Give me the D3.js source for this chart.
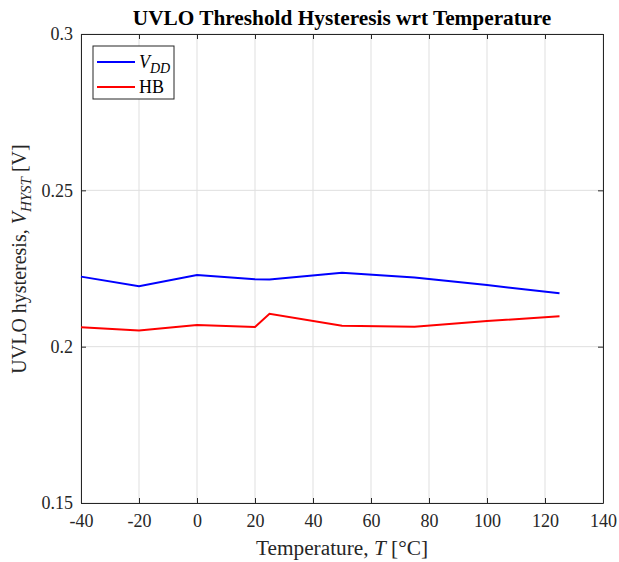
<!DOCTYPE html>
<html>
<head>
<meta charset="utf-8">
<script src="https://cdn.jsdelivr.net/npm/d3@7"></script>
<style>
  body { margin: 0; background: #fff; }
  text { font-family: "Liberation Serif", "Times New Roman", serif; }
</style>
</head>
<body>
<div id="chart"></div>
<script>
var temps = [-40, -20, 0, 20, 25, 50, 75, 100, 125];
var vddHyst = [0.2224, 0.2193, 0.2229, 0.2216, 0.2215, 0.2236, 0.2221, 0.2197, 0.2171];
var hbHyst = [0.2062, 0.2052, 0.2069, 0.2063, 0.2105, 0.2067, 0.2064, 0.2082, 0.2097];
var xTicks = [-40, -20, 0, 20, 40, 60, 80, 100, 120, 140];
var yTicks = [0.15, 0.2, 0.25, 0.3];

var width = 619, height = 562;
var margin = {top: 34, right: 16, bottom: 59, left: 81};
var w = width - margin.left - margin.right,
    h = height - margin.top - margin.bottom;
var serif = "'Liberation Serif', 'Times New Roman', serif";

var svg = d3.select("#chart").append("svg")
  .attr("width", width)
  .attr("height", height);

var g = svg.append("g")
  .attr("transform", "translate(" + margin.left + "," + margin.top + ")");

var x = d3.scaleLinear().domain([-40, 140]).range([0, w]);
var y = d3.scaleLinear().domain([0.15, 0.3]).range([h, 0]);

// grid
g.selectAll(".gx").data(xTicks).enter().append("line")
  .attr("x1", d => x(d)).attr("x2", d => x(d))
  .attr("y1", 0).attr("y2", h)
  .attr("stroke", "#dfdfdf").attr("stroke-width", 1);
g.selectAll(".gy").data(yTicks).enter().append("line")
  .attr("y1", d => y(d)).attr("y2", d => y(d))
  .attr("x1", 0).attr("x2", w)
  .attr("stroke", "#dfdfdf").attr("stroke-width", 1);

// axes (ticks inward, box)
var fmt = d => String(d);
var axB = g.append("g").attr("transform", "translate(0," + h + ")")
  .call(d3.axisBottom(x).tickValues(xTicks).tickFormat(fmt).tickSizeInner(-5).tickSizeOuter(0).tickPadding(11));
var axT = g.append("g")
  .call(d3.axisTop(x).tickValues(xTicks).tickFormat("").tickSizeInner(-5).tickSizeOuter(0));
var axL = g.append("g")
  .call(d3.axisLeft(y).tickValues(yTicks).tickFormat(fmt).tickSizeInner(-5).tickSizeOuter(0).tickPadding(8));
var axR = g.append("g").attr("transform", "translate(" + w + ",0)")
  .call(d3.axisRight(y).tickValues(yTicks).tickFormat("").tickSizeInner(-5).tickSizeOuter(0));

[axB, axT, axL, axR].forEach(function(a){
  a.attr("font-family", serif).attr("font-size", 18);
  a.selectAll("path").attr("stroke", "#262626").attr("stroke-width", 1);
  a.selectAll("line").attr("stroke", "#262626");
  a.selectAll("text").attr("fill", "#262626").style("font-family", serif);
});

// lines
var line = d3.line()
  .x(function(d){ return x(d[0]); })
  .y(function(d){ return y(d[1]); });

g.append("path")
  .datum(temps.map((t, i) => [t, vddHyst[i]]))
  .attr("d", line)
  .attr("fill", "none").attr("stroke", "#0000ff").attr("stroke-width", 2);
g.append("path")
  .datum(temps.map((t, i) => [t, hbHyst[i]]))
  .attr("d", line)
  .attr("fill", "none").attr("stroke", "#ff0000").attr("stroke-width", 2);

// title
svg.append("text")
  .attr("x", margin.left + w / 2).attr("y", 25)
  .attr("text-anchor", "middle")
  .style("font-size", "21.3px").style("font-weight", "bold")
  .text("UVLO Threshold Hysteresis wrt Temperature");

// x label
var xl = svg.append("text")
  .attr("x", margin.left + w / 2).attr("y", 555)
  .attr("text-anchor", "middle")
  .style("font-size", "21.3px")
  .attr("fill", "#262626");
xl.append("tspan").text("Temperature, ");
xl.append("tspan").style("font-style", "italic").text("T");
xl.append("tspan").text(" [°C]");

// y label
var yl = svg.append("text")
  .attr("transform", "translate(26,259) rotate(-90)")
  .attr("text-anchor", "middle")
  .style("font-size", "20px")
  .attr("fill", "#262626");
yl.append("tspan").text("UVLO hysteresis, ");
yl.append("tspan").style("font-style", "italic").text("V");
yl.append("tspan").style("font-style", "italic").style("font-size", "15px").attr("dy", 5).text("HYST");
yl.append("tspan").attr("dy", -5).text(" [V]");

// legend
var lg = g.append("g").attr("transform", "translate(12,12)");
lg.append("rect").attr("width", 81).attr("height", 53)
  .attr("fill", "#fff").attr("stroke", "#262626").attr("stroke-width", 1);
var items = [
  {name: "V", sub: "DD", color: "#0000ff"},
  {name: "HB", sub: null, color: "#ff0000"}
];
items.forEach(function(it, i){
  var yy = 16 + i * 25;
  lg.append("line").attr("x1", 4).attr("x2", 42).attr("y1", yy).attr("y2", yy)
    .attr("stroke", it.color).attr("stroke-width", 2);
  var t = lg.append("text").attr("x", 46).attr("y", yy + 6)
    .style("font-size", "18px").attr("fill", "#000");
  if (it.sub) {
    t.append("tspan").style("font-style", "italic").text(it.name);
    t.append("tspan").style("font-style", "italic").style("font-size", "14px").attr("dy", 5).text(it.sub);
  } else {
    t.text(it.name);
  }
});
</script>
</body>
</html>
